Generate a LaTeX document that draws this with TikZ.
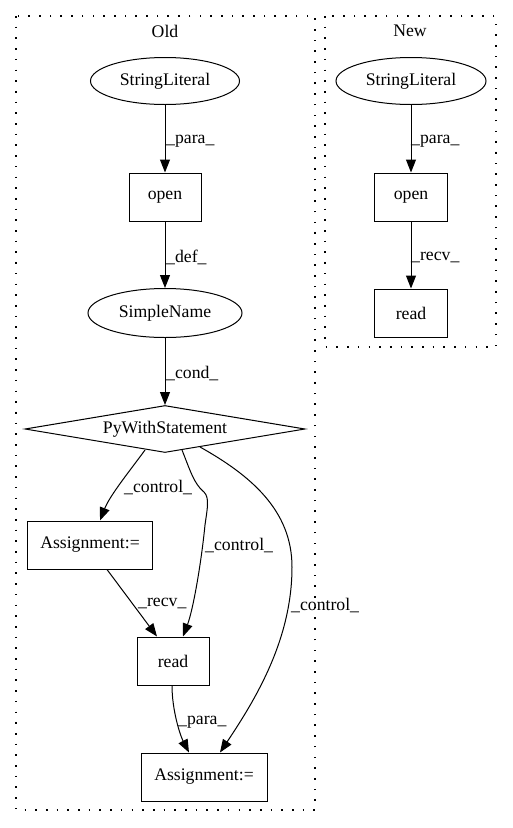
\documentclass[tikz,border=0pt]{standalone}
\usepackage{fontspec}
\setmainfont{Liberation Serif}
\usetikzlibrary{shapes.geometric,arrows.meta}
\begin{document}
\begin{tikzpicture}[x=1pt,y=-1pt,
  every node/.style={font=\fontsize{17.7}{21}\selectfont},
  box/.style={draw, line width=1pt, rectangle, minimum height=48pt, inner sep=0pt},
  ell/.style={draw, line width=1pt, ellipse, inner sep=0pt},
  dia/.style={draw, line width=1pt, diamond, aspect=6, inner sep=0pt},
  edge/.style={draw, line width=1pt, -{Triangle[length=13pt,width=10pt]}},
  lab/.style={anchor=west, inner sep=0pt},
  clus/.style={draw, line width=1.4pt, dash pattern=on 1.6pt off 9.1pt}]
\useasboundingbox (0,0) rectangle (512,828);

% clusters
\draw[clus] (16,16) rectangle (315,810);
\draw[clus] (325,16) rectangle (496,347);
\node (toldlab) at (165,31) {Old};
\node (tnewlab) at (410,31) {New};

% Old nodes
\node[ell, minimum width=149pt, minimum height=47pt] (osl) at (165,81) {StringLiteral};
\node[box, minimum width=72pt] (oopen) at (165,197) {open};
\node[ell, minimum width=154pt, minimum height=49pt] (osn) at (165,313) {SimpleName};
\node[dia, minimum width=280pt, minimum height=47pt] (pws) at (165,429) {PyWithStatement};
\node[box, minimum width=125pt] (asg1) at (90,545) {Assignment:=};
\node[box, minimum width=72pt] (oread) at (173,661) {read};
\node[box, minimum width=126pt] (asg2) at (204,777) {Assignment:=};

% New nodes
\node[ell, minimum width=150pt, minimum height=47pt] (nsl) at (411,81) {StringLiteral};
\node[box, minimum width=73pt] (nopen) at (411,197) {open};
\node[box, minimum width=73pt] (nread) at (411,313) {read};

% Old edges
\draw[edge] (osl) -- (oopen);
\draw[edge] (oopen) -- (osn);
\draw[edge] (osn) -- (pws);
\draw[edge] ([xshift=-20pt,yshift=3pt]pws.south) .. controls (132,468) and (110,495) .. ([xshift=10pt]asg1.north);
\draw[edge] ([xshift=17pt,yshift=3pt]pws.south) .. controls (190,470) and (194,484) .. (204,492)
   .. controls (210,498) and (207,510) .. (205,525)
   .. controls (201,565) and (193,610) .. ([xshift=10pt]oread.north);
\draw[edge] ([xshift=35pt,yshift=6pt]pws.south) .. controls (250,475) and (292,510) .. (292,567)
   .. controls (292,640) and (255,700) .. ([xshift=16pt]asg2.north);
\draw[edge] ([xshift=17pt]asg1.south) -- ([xshift=-16pt]oread.north);
\draw[edge] ([xshift=-1pt]oread.south) .. controls (172,710) and (180,735) .. ([xshift=-15pt]asg2.north);

% New edges
\draw[edge] (nsl) -- (nopen);
\draw[edge] (nopen) -- (nread);

% labels
\node[lab] (l1) at (166,141) {\_para\_};
\node[lab] (l2) at (166,257) {\_def\_};
\node[lab] (l3) at (166,373) {\_cond\_};
\node[lab] (l4) at (124,487) {\_control\_};
\node[lab] (l5) at (205,545) {\_control\_};
\node[lab] (l6) at (291,605) {\_control\_};
\node[lab] (l7) at (138,603) {\_recv\_};
\node[lab] (l8) at (178,722) {\_para\_};
\node[lab] (l9) at (411,141) {\_para\_};
\node[lab] (l10) at (411,257) {\_recv\_};
\end{tikzpicture}
\end{document}
